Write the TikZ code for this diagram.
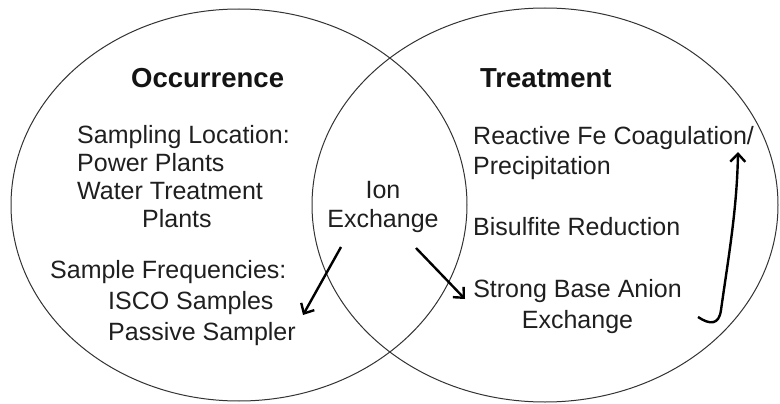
\documentclass[tikz,border=0pt]{standalone}
\usepackage{fontspec}
\setmainfont{Liberation Sans}
\usetikzlibrary{arrows.meta}

\tikzset{
  body/.style={font=\fontsize{25}{30}\selectfont, inner sep=0pt, text=black!88},
  head/.style={font=\fontsize{27.5}{33}\selectfont\bfseries, inner sep=0pt, text=black!92},
  flow/.style={line width=2.4pt, -{Straight Barb[length=8pt,width=15pt]}},
}

\begin{document}
\begin{tikzpicture}[x=1pt, y=-1pt]
  \useasboundingbox (0,0) rectangle (780,404);
  % the two sets
  \draw[line width=1pt, black!80] (239,205) ellipse [x radius=228pt, y radius=196pt];
  \draw[line width=1pt, black!80] (545,205) ellipse [x radius=233pt, y radius=197pt];
  % headings
  \node[head, anchor=base west] (occ) at (131,88) {Occurrence};
  \node[head, anchor=base west] (treat) at (480,88) {Treatment};
  % left set (base = last line)
  \node[body, anchor=base west, align=left, font=\fontsize{25}{28}\selectfont] (loc) at (77,227)
    {Sampling Location:\\Power Plants\\Water Treatment\\\hspace*{65pt}Plants};
  \node[body, anchor=base west, align=left, font=\fontsize{25}{31}\selectfont] (freq) at (50,340)
    {Sample Frequencies:\\\hspace*{58pt}ISCO Samples\\\hspace*{58pt}Passive Sampler};
  % overlap
  \node[body, anchor=base, align=center, font=\fontsize{25}{29}\selectfont] (ion) at (383,227)
    {Ion\\Exchange};
  % right set
  \node[body, anchor=base west, align=left] (fe) at (473,174)
    {Reactive Fe Coagulation/\\Precipitation};
  \node[body, anchor=base west] (bis) at (473,235) {Bisulfite Reduction};
  \node[body, anchor=base, align=center, font=\fontsize{25}{31}\selectfont] (sba) at (577.5,328)
    {Strong Base Anion\\Exchange};
  % arrow ends
  \coordinate (ionL) at (341,247);
  \coordinate (freqE) at (303,315);
  \coordinate (ionR) at (416,248);
  \coordinate (sbaW) at (465,299);
  \coordinate (sbaE) at (698,317);
  \coordinate (feE) at (738,152);
  \draw[flow] (ionL) -- (freqE);
  \draw[flow] (ionR) -- (sbaW);
  \draw[flow] (sbaE) .. controls (710,325) and (719,325) .. (721,310)
    .. controls (728,260) and (737,210) .. (feE);
\end{tikzpicture}
\end{document}
